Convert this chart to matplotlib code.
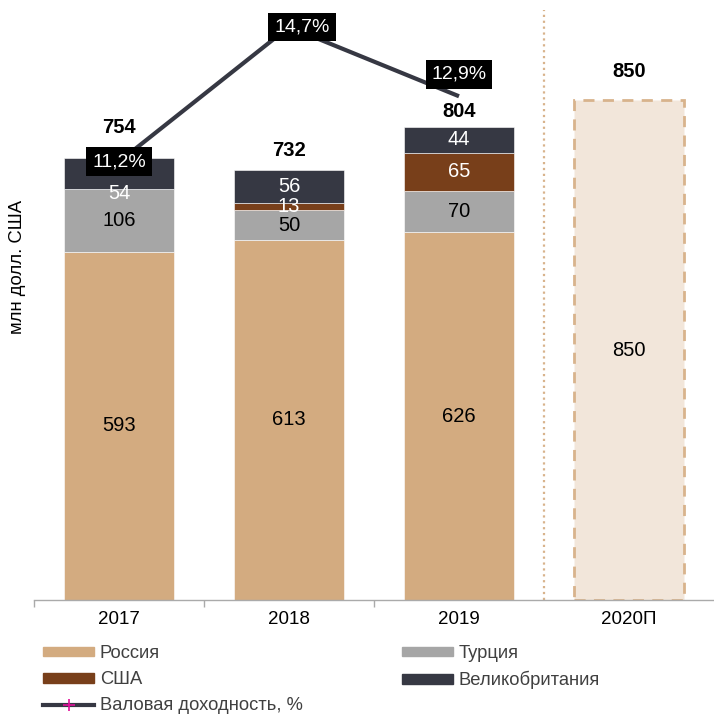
import matplotlib
matplotlib.use("Agg")
import matplotlib.pyplot as plt
from matplotlib.patches import Patch
from matplotlib.lines import Line2D
import numpy as np

plt.rcParams['font.family'] = ['Liberation Sans', 'DejaVu Sans']

# Data (млн долл. США)
years = ["2017", "2018", "2019"]
forecast_label = "2020П"
russia = [593, 613, 626]
turkey = [106, 50, 70]
usa = [0, 13, 65]
uk = [54, 56, 44]
totals = [754, 732, 804]
forecast_total = 850
margin = [11.2, 14.7, 12.9]
margin_labels = ["11,2%", "14,7%", "12,9%"]

c_russia = "#D3AB80"
c_turkey = "#A6A6A6"
c_usa = "#783F1A"
c_uk = "#363843"
c_text = "#404040"

fig = plt.figure(figsize=(7.14, 7.14), dpi=100)
ax = fig.add_axes([34 / 714, 1 - 600 / 714, 680 / 714, 590 / 714])
ax.set_xlim(-0.5, 3.5)
ax.set_ylim(0, 1004)

x = np.arange(len(years))
w = 0.647
series = [(russia, c_russia, "Россия", ["black"] * 3),
          (turkey, c_turkey, "Турция", ["black"] * 3),
          (usa, c_usa, "США", ["white"] * 3),
          (uk, c_uk, "Великобритания", ["white"] * 3)]
bottom = np.zeros(len(years))
for vals, col, name, tcols in series:
    vals = np.array(vals, dtype=float)
    ax.bar(x, vals, w, bottom=bottom, color=col, edgecolor="white",
           linewidth=0.4, zorder=2)
    for i, v in enumerate(vals):
        if v <= 0:
            continue
        yc = bottom[i] + v / 2
        dy = 0
        if name == "Великобритания" and i == 0:
            dy = -34  # label moved below the margin badge
        ax.text(x[i], yc + dy, f"{int(v)}", ha="center", va="center",
                fontsize=14.5, color=tcols[i], zorder=5)
    bottom += vals

# Forecast bar
ax.bar(3, forecast_total, w, color="#F2E6DA", edgecolor="#D8B38C",
       linewidth=2, linestyle=(0, (4, 3)), zorder=2)
ax.text(3, forecast_total / 2, f"{forecast_total}", ha="center", va="center",
        fontsize=14.5, color="black", zorder=5)

# Totals above bars
all_totals = totals + [forecast_total]
tot_offsets = [29, 19, 16, 29]
for i, t in enumerate(all_totals):
    ax.annotate(f"{t}", (i, t), xytext=(0, tot_offsets[i]), textcoords="offset pixels",
                ha="center", va="center", fontsize=14.5, fontweight="bold", color="black",
                zorder=6)

# Separator before the forecast
ax.axvline(2.5, color="#D8B38C", linestyle=":", linewidth=1.6, zorder=1)

# Axes styling
for s in ["left", "right", "top"]:
    ax.spines[s].set_visible(False)
ax.spines["bottom"].set_color("#AAAAAA")
ax.spines["bottom"].set_linewidth(1.0)
ax.set_yticks([])
ax.set_xticks([-0.5, 0.5, 1.5])
ax.set_xticklabels([])
ax.tick_params(axis="x", length=5, color="#AAAAAA", width=1.0)
for i, lab in enumerate(years + [forecast_label]):
    ax.annotate(lab, (i, 0), xytext=(0, -20), textcoords="offset pixels",
                ha="center", va="center", fontsize=13.5, color="black",
                annotation_clip=False)

# Gross margin line on secondary axis
ax2 = ax.twinx()
ax2.set_ylim(-0.18, 15.14)
ax2.axis("off")
ax2.plot(x, margin, color=c_uk, linewidth=3, zorder=3, solid_capstyle="butt")
lbl_offsets = [(0, 0), (13, 0), (0, 22)]
for i, (m, lab) in enumerate(zip(margin, margin_labels)):
    ax2.annotate(lab, (x[i], m), xytext=lbl_offsets[i], textcoords="offset pixels",
                 ha="center", va="center", fontsize=14, color="white", zorder=7,
                 bbox=dict(boxstyle="square,pad=0.3", fc="black", ec="none"))

# Y label
fig.text(18 / 714, 1 - 267 / 714, "млн долл. США", rotation=90, ha="center",
         va="center", fontsize=13.3, color="black")

# Legend
handles = [Patch(color=c_russia), Patch(color=c_usa),
           Line2D([0], [0], color=c_uk, linewidth=3, marker="+", markersize=8,
                  markeredgecolor="#E0109A", markeredgewidth=1.2),
           Patch(color=c_turkey), Patch(color=c_uk)]
labels = ["Россия", "США", "Валовая доходность, %", "Турция", "Великобритания"]
leg = fig.legend(handles, labels, ncol=2, loc="upper left",
                 bbox_to_anchor=(43 / 714, 1 - 645 / 714), frameon=False,
                 fontsize=13.2, handlelength=2.8, handleheight=0.45,
                 handletextpad=0.3, columnspacing=5.4, labelspacing=0.5,
                 borderpad=0, borderaxespad=0, numpoints=1)
for t in leg.get_texts():
    t.set_color(c_text)

fig.savefig("out.png", dpi=100)
